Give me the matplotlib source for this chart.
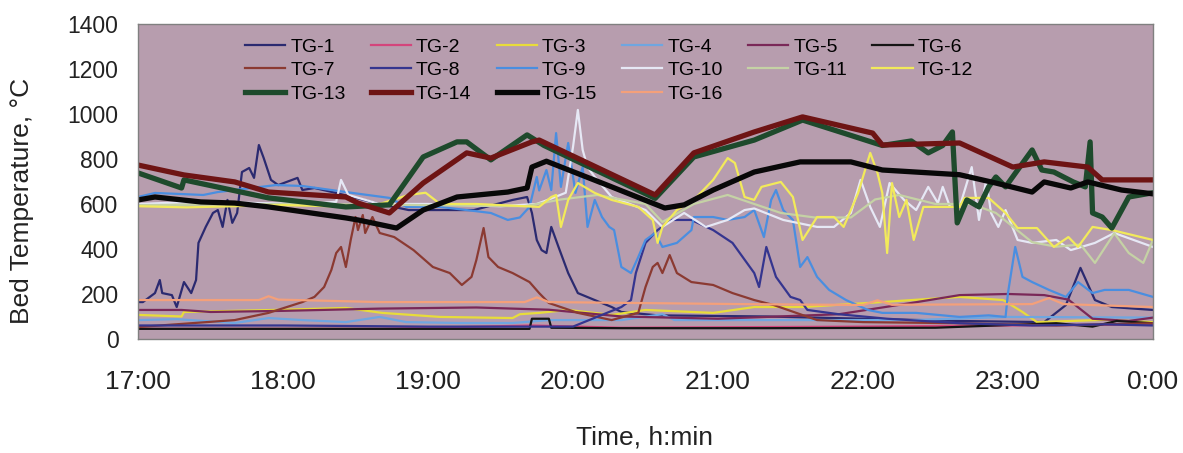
import matplotlib
matplotlib.use("Agg")
import matplotlib.pyplot as plt

plt.rcParams['font.family'] = ['Liberation Sans', 'DejaVu Sans']

# readings: minutes after 17:00 and bed temperature in degC
tg1_min = [0, 2, 7, 9, 10, 14, 16, 19, 22, 24, 25, 28, 31, 33, 35, 37, 39, 41, 43, 46, 48, 50, 52, 55, 58,
           66, 68, 73, 82, 100, 112, 122, 139, 155, 161, 163, 165, 167, 169, 171, 174, 178, 182, 189, 196,
           200, 215, 260, 300, 340, 375, 384, 390, 396, 403, 420]
tg1_temp = [164, 164, 204, 262, 204, 195, 142, 253, 204, 262, 427, 498, 560, 573, 498, 618, 516, 560, 742, 760,
            716, 862, 804, 707, 684, 716, 662, 671, 649, 600, 573, 573, 573, 618, 631, 560, 440, 395, 382, 498,
            409, 293, 204, 173, 142, 120, 105, 100, 90, 80, 75, 151, 316, 173, 142, 129]

tg2_min = [0, 100, 163, 200, 300, 360, 420]
tg2_temp = [45, 45, 60, 50, 55, 60, 65]

tg3_min = [0, 18, 19, 60, 86, 101, 125, 155, 158, 166, 178, 196, 210, 238, 255, 275, 302, 340, 358, 366,
           372, 400, 420]
tg3_temp = [107, 100, 120, 130, 138, 116, 98, 93, 110, 116, 129, 107, 129, 116, 142, 142, 160, 187, 173, 120,
            75, 85, 75]

tg4_min = [0, 16, 40, 54, 68, 86, 100, 111, 133, 155, 170, 200, 217, 222, 260, 320, 360, 420]
tg4_temp = [84, 88, 71, 93, 84, 75, 98, 75, 71, 71, 84, 84, 110, 84, 84, 84, 98, 95]

tg5_min = [0, 18, 30, 60, 100, 140, 170, 200, 240, 290, 320, 340, 360, 375, 385, 395, 410, 420]
tg5_temp = [129, 129, 120, 125, 135, 140, 130, 100, 90, 110, 160, 195, 200, 195, 175, 90, 80, 95]

tg6_min = [0, 162, 163, 170, 171, 200, 260, 330, 355, 380, 395, 405, 420]
tg6_temp = [45, 45, 90, 90, 50, 48, 48, 50, 60, 70, 55, 80, 70]

tg7_min = [0, 40, 54, 68, 73, 77, 80, 82, 84, 86, 88, 90, 91, 93, 94, 97, 100, 106, 114, 122, 129, 134, 138,
           140, 143, 145, 149, 155, 162, 166, 170, 182, 196, 207, 210, 213, 215, 217, 220, 223, 229, 238, 246,
           255, 263, 281, 300, 340, 380, 420]
tg7_temp = [53, 84, 116, 164, 187, 231, 307, 382, 409, 320, 440, 542, 484, 551, 471, 542, 471, 453, 395, 320,
            293, 240, 276, 351, 493, 364, 320, 293, 253, 204, 160, 116, 84, 116, 231, 320, 338, 293, 373, 293,
            253, 240, 204, 173, 151, 84, 75, 70, 60, 70]

tg8_min = [0, 60, 120, 180, 200, 204, 206, 210, 215, 221, 229, 238, 246, 255, 257, 260, 264, 270, 274, 277,
           290, 310, 340, 370, 400, 420]
tg8_temp = [60, 60, 55, 55, 142, 173, 293, 427, 484, 529, 529, 484, 427, 293, 231, 409, 276, 187, 173, 129,
            110, 90, 70, 60, 65, 60]

tg9_min = [0, 7, 27, 33, 47, 57, 68, 86, 104, 111, 125, 146, 153, 158, 162, 165, 166, 169, 171, 173, 175, 178,
           181, 184, 186, 189, 192, 195, 197, 200, 204, 207, 210, 214, 217, 223, 229, 230, 238, 244, 251, 255,
           259, 262, 264, 267, 271, 274, 277, 281, 286, 293, 302, 308, 322, 340, 352, 359, 360, 363, 366, 370,
           377, 384, 389, 395, 400, 410, 420]
tg9_temp = [631, 649, 640, 653, 671, 684, 680, 653, 627, 587, 587, 560, 529, 540, 587, 720, 660, 751, 662, 915,
            676, 871, 649, 764, 498, 618, 542, 498, 484, 320, 293, 364, 440, 471, 409, 427, 484, 542, 542, 529,
            542, 573, 453, 618, 662, 573, 529, 320, 364, 276, 218, 173, 129, 116, 116, 98, 105, 98, 204, 409,
            276, 253, 218, 187, 253, 204, 218, 218, 187]

tg10_min = [0, 10, 30, 50, 70, 82, 84, 87, 100, 120, 150, 165, 170, 177, 180, 182, 184, 186, 189, 196, 210,
            217, 226, 235, 244, 251, 255, 267, 281, 288, 295, 299, 303, 307, 311, 317, 322, 327, 331, 333, 336,
            340, 345, 348, 351, 353, 356, 359, 364, 370, 380, 386, 396, 404, 420]
tg10_temp = [600, 604, 610, 604, 600, 610, 707, 640, 600, 600, 590, 600, 620, 650, 853, 1018, 840, 764, 720,
             631, 573, 498, 560, 498, 529, 573, 580, 529, 498, 498, 560, 707, 587, 498, 693, 618, 573, 676, 604,
             676, 587, 587, 764, 529, 707, 560, 498, 573, 440, 427, 440, 395, 427, 471, 409]

tg11_min = [0, 60, 120, 160, 175, 190, 210, 217, 230, 244, 255, 266, 280, 295, 305, 315, 330, 345, 355, 370,
            380, 390, 396, 404, 410, 416, 420]
tg11_temp = [595, 600, 595, 590, 620, 640, 600, 520, 600, 640, 600, 560, 540, 540, 620, 640, 600, 600, 560, 430,
             410, 420, 338, 470, 382, 338, 440]

tg12_min = [0, 20, 40, 60, 80, 100, 112, 119, 125, 140, 160, 166, 171, 173, 175, 178, 182, 189, 196, 207, 213,
            215, 217, 223, 230, 238, 244, 247, 251, 255, 258, 266, 271, 275, 281, 288, 292, 298, 303, 306, 308,
            310, 312, 315, 318, 321, 325, 330, 340, 342, 352, 359, 364, 372, 379, 385, 389, 395, 403, 420]
tg12_temp = [590, 585, 590, 595, 590, 600, 640, 650, 600, 600, 590, 587, 631, 640, 498, 618, 693, 649, 618, 587,
             529, 427, 498, 573, 618, 707, 804, 782, 631, 618, 676, 698, 631, 440, 542, 542, 498, 649, 827, 738,
             649, 382, 693, 542, 618, 440, 587, 587, 587, 627, 627, 560, 493, 493, 409, 453, 409, 498, 484, 440]

tg13_min = [0, 18, 19, 54, 86, 104, 118, 132, 136, 146, 161, 168, 214, 230, 255, 275, 292, 308, 320, 327, 333,
            337, 339, 343, 348, 352, 355, 359, 364, 370, 374, 379, 387, 392, 394, 395, 399, 403, 410, 420]
tg13_temp = [738, 671, 707, 627, 587, 596, 809, 876, 876, 796, 907, 860, 625, 809, 884, 973, 915, 860, 880, 827,
             860, 920, 516, 618, 587, 676, 720, 676, 751, 840, 751, 742, 698, 676, 876, 560, 542, 493, 631, 650]

tg14_min = [0, 19, 40, 54, 86, 91, 104, 118, 136, 146, 163, 166, 214, 230, 255, 275, 304, 308, 340, 362, 375,
            393, 399, 420]
tg14_temp = [773, 729, 698, 653, 631, 604, 560, 693, 827, 804, 876, 884, 640, 827, 920, 987, 915, 862, 871, 764,
             787, 764, 707, 707]

tg15_min = [0, 7, 26, 40, 54, 86, 91, 107, 118, 132, 153, 161, 163, 169, 196, 218, 226, 238, 255, 274, 295,
            308, 340, 355, 370, 375, 386, 393, 407, 420]
tg15_temp = [618, 631, 609, 604, 587, 538, 529, 493, 573, 631, 653, 671, 764, 790, 676, 582, 596, 662, 742, 787,
             787, 751, 730, 693, 653, 698, 671, 698, 662, 645]

tg16_min = [0, 50, 54, 58, 100, 160, 165, 170, 250, 300, 306, 312, 370, 377, 383, 420]
tg16_temp = [173, 173, 190, 175, 164, 164, 185, 164, 155, 151, 172, 152, 155, 182, 155, 142]

tick_minutes = [0, 60, 120, 180, 240, 300, 360, 420]
tick_labels = ['17:00', '18:00', '19:00', '20:00', '21:00', '22:00', '23:00', '0:00']

series = [
    ('TG-1', tg1_min, tg1_temp, '#2b2a70', 1.6),
    ('TG-2', tg2_min, tg2_temp, '#d4457c', 1.6),
    ('TG-3', tg3_min, tg3_temp, '#e8dc3a', 1.6),
    ('TG-4', tg4_min, tg4_temp, '#6fa6e0', 1.6),
    ('TG-5', tg5_min, tg5_temp, '#7a2858', 1.6),
    ('TG-6', tg6_min, tg6_temp, '#151515', 1.6),
    ('TG-7', tg7_min, tg7_temp, '#8b3a32', 1.6),
    ('TG-8', tg8_min, tg8_temp, '#35358f', 1.6),
    ('TG-9', tg9_min, tg9_temp, '#4a8ee0', 1.6),
    ('TG-10', tg10_min, tg10_temp, '#e6e8f5', 1.6),
    ('TG-11', tg11_min, tg11_temp, '#c5d2a5', 1.6),
    ('TG-12', tg12_min, tg12_temp, '#f2ea5a', 1.6),
    ('TG-13', tg13_min, tg13_temp, '#1e4a2c', 3.8),
    ('TG-14', tg14_min, tg14_temp, '#6e1414', 3.8),
    ('TG-15', tg15_min, tg15_temp, '#080808', 3.8),
    ('TG-16', tg16_min, tg16_temp, '#f4a07a', 1.6),
]

fig = plt.figure(figsize=(11.83, 4.53), dpi=100)
ax = fig.add_axes([0.1167, 0.2517, 0.8579, 0.6954])
ax.set_facecolor('#b79dae')

lines = {}
# thin traces first, the three thick ones on top
for name, t, v, col, lw in series:
    if lw < 2:
        lines[name], = ax.plot(t, v, color=col, lw=lw, label=name, solid_joinstyle='round')
for name, t, v, col, lw in series:
    if lw >= 2:
        lines[name], = ax.plot(t, v, color=col, lw=lw, label=name, solid_joinstyle='round')

ax.set_xlim(0, 420)
ax.set_ylim(0, 1400)
ax.set_xticks(tick_minutes)
ax.set_xticklabels(tick_labels)
ax.set_yticks(range(0, 1401, 200))
ax.tick_params(axis='x', length=0, pad=22, labelsize=19, colors='#222222')
ax.tick_params(axis='y', length=0, pad=14, labelsize=16.5, colors='#222222')
for sp in ax.spines.values():
    sp.set_color('#808080')
    sp.set_linewidth(1.0)

# legend is filled column by column, so order entries to read row-wise
order = ['TG-1', 'TG-7', 'TG-13', 'TG-2', 'TG-8', 'TG-14', 'TG-3', 'TG-9', 'TG-15',
         'TG-4', 'TG-10', 'TG-16', 'TG-5', 'TG-11', 'TG-6', 'TG-12']
ax.legend([lines[n] for n in order], order, ncol=6, loc='upper left',
          bbox_to_anchor=(0.1054, 0.955), frameon=False, fontsize=14,
          borderpad=0, borderaxespad=0, handlelength=2.06, handletextpad=0.26,
          columnspacing=1.3, labelspacing=0.3)

fig.text(645 / 1183, 1 - 437 / 453, 'Time, h:min', ha='center', va='center',
         fontsize=19, color='#222222')
fig.text(22 / 1183, 1 - 201 / 453, 'Bed Temperature, \u00b0C', ha='center', va='center',
         rotation=90, fontsize=19, color='#222222')

fig.savefig('out.png', dpi=100)
